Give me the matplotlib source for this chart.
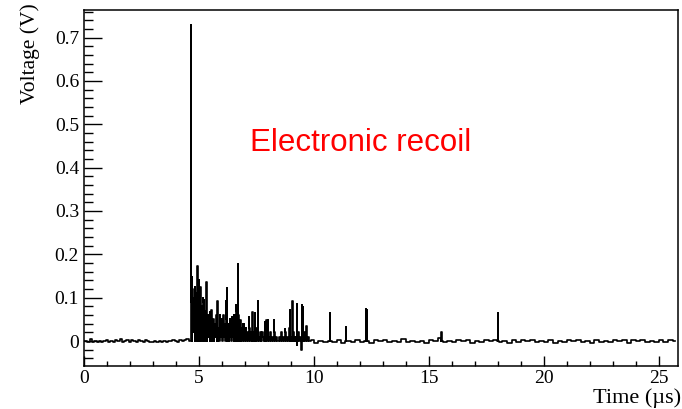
import numpy as np
import matplotlib
matplotlib.use("Agg")
import matplotlib.pyplot as plt
from matplotlib.ticker import MultipleLocator, FormatStrFormatter

# isolated spikes: time (us), peak voltage (V)
peak_t = [4.65, 4.70, 4.83, 4.94, 5.00, 5.07, 5.19, 5.23, 5.33, 5.48, 5.55,
          5.81, 5.91, 6.04, 6.16, 6.23, 6.42, 6.53, 6.61, 6.70, 6.81, 6.93,
          7.17, 7.33, 7.43, 7.57, 7.87, 7.94, 8.01, 8.26, 8.74, 8.96, 9.07,
          9.25, 9.49, 9.53, 9.68, 10.70, 11.38, 12.26, 12.32, 15.55, 18.01]
peak_v = [0.73, 0.148, 0.125, 0.172, 0.141, 0.125, 0.099, 0.095, 0.137, 0.068, 0.072,
          0.092, 0.060, 0.037, 0.093, 0.122, 0.055, 0.060, 0.083, 0.178, 0.048, 0.039,
          0.055, 0.068, 0.065, 0.093, 0.045, 0.048, 0.048, 0.048, 0.028, 0.072, 0.092,
          0.085, 0.082, 0.079, 0.035, 0.065, 0.032, 0.074, 0.072, 0.020, 0.064]

# dense tail after the main pulse, samples every 0.02 us from 4.66 us
dense_v = [0.02, 0.09, 0.03, 0.12, 0.02, 0.07, 0.04, 0.10, 0.02, 0.08,
           0.03, 0.11, 0.02, 0.06, 0.03, 0.09, 0.02, 0.07, 0.03, 0.10,
           0.02, 0.06, 0.01, 0.08, 0.02, 0.05, 0.03, 0.09, 0.01, 0.06,
           0.02, 0.07, 0.01, 0.05, 0.02, 0.04, 0.01, 0.06, 0.02, 0.03,
           0.01, 0.05, 0.02, 0.04, 0.01, 0.06, 0.01, 0.03, 0.02, 0.05,
           0.00, 0.03, 0.01, 0.04, 0.02, 0.06, 0.01, 0.03, 0.01, 0.05,
           0.01, 0.03, 0.00, 0.04, 0.01, 0.02, 0.01, 0.05, 0.00, 0.03,
           0.01, 0.06, 0.01, 0.04, 0.02, 0.07, 0.01, 0.05, 0.02, 0.04,
           0.01, 0.03, 0.00, 0.04, 0.02, 0.05, 0.01, 0.03, 0.00, 0.02,
           0.01, 0.04, 0.01, 0.05, 0.02, 0.06, 0.01, 0.04, 0.02, 0.07,
           0.02, 0.05, 0.01, 0.06, 0.02, 0.04, 0.01, 0.03, 0.00, 0.02,
           0.01, 0.03, 0.00, 0.02, 0.01, 0.04, 0.00, 0.02, 0.01, 0.03]

# sparser ripple, samples every 0.04 us from 7.06 us
sparse_v = [0.00, 0.02, 0.00, 0.01, 0.03, 0.00, 0.02, 0.00, 0.01, 0.02,
            0.00, 0.03, 0.00, 0.01, 0.00, 0.02, 0.00, 0.01, 0.02, 0.00,
            0.01, 0.00, 0.02, 0.00, 0.01, 0.00, 0.02, 0.00, 0.00, 0.01,
            0.00, 0.02, 0.00, 0.01, 0.00, 0.00, 0.01, 0.00, 0.02, 0.00,
            0.01, 0.00, 0.00, 0.02, 0.00, 0.01, 0.00, 0.03, 0.00, 0.01,
            0.00, 0.02, 0.00, 0.01, 0.00, -0.01, 0.00, 0.02, 0.00, 0.01,
            -0.02, 0.01, 0.00, 0.02, 0.00, 0.01, 0.00, 0.00, 0.01, 0.00]

# baseline noise before the pulse, every 0.1 us from 0
pre_v = [0.0, 0.001, -0.002, 0.004, -0.002, 0.0, -0.003, 0.001, -0.002, 0.0,
         0.002, -0.003, 0.0, -0.002, 0.003, 0.001, 0.004, -0.002, 0.0, 0.003,
         -0.002, 0.002, 0.0, -0.003, 0.003, 0.0, -0.002, 0.002, 0.0, -0.003,
         -0.002, 0.0, -0.003, 0.001, -0.002, 0.0, -0.003, 0.001, 0.0, 0.003,
         0.0, -0.002, 0.003, 0.0, 0.002, 0.004, 0.0]
# baseline noise after the pulse, every 0.2 us from 9.9
post_v = [0.003, -0.004, 0.0, -0.003, 0.001, -0.002, 0.003, -0.004, 0.0, -0.003,
          0.002, -0.003, 0.0, -0.004, 0.003, -0.001, 0.002, -0.003, 0.0, -0.003,
          0.004, -0.002, 0.001, -0.003, 0.0, -0.004, 0.002, 0.0, 0.006, -0.003,
          0.001, -0.002, 0.003, 0.0, 0.002, -0.004, 0.001, -0.002, 0.003, 0.0,
          0.002, -0.003, 0.0, -0.004, 0.002, -0.002, 0.003, 0.0, 0.002, -0.003,
          0.001, -0.002, 0.002, -0.004, 0.0, -0.003, 0.002, -0.001, 0.003, -0.003,
          0.0, -0.004, 0.003, -0.002, 0.001, -0.003, 0.002, 0.0, 0.003, -0.004,
          0.002, -0.001, 0.003, -0.003, 0.0, -0.003, 0.003, -0.002, 0.002, 0.0]

dense_t = 4.66 + 0.02 * np.arange(len(dense_v))
sparse_t = 7.06 + 0.04 * np.arange(len(sparse_v))
pre_t = 0.1 * np.arange(len(pre_v))
post_t = 9.9 + 0.2 * np.arange(len(post_v))

pts = (list(zip(pre_t, pre_v)) + list(zip(dense_t, dense_v))
       + list(zip(sparse_t, sparse_v)) + list(zip(post_t, post_v)))
for t, v in zip(peak_t, peak_v):
    pts += [(t - 0.004, 0.0), (t, v), (t + 0.004, 0.0)]
pts.sort(key=lambda p: p[0])
t_all = [p[0] for p in pts]
v_all = [p[1] for p in pts]

fig = plt.figure(figsize=(6.82, 4.09), dpi=100)
ax = fig.add_axes([0.123, 0.105, 0.871, 0.871])

ax.plot(t_all, v_all, color="black", lw=1.2, drawstyle="steps-mid")

ax.set_xlim(0, 25.83)
ax.set_ylim(-0.0577, 0.764)

ax.xaxis.set_major_locator(MultipleLocator(5))
ax.xaxis.set_minor_locator(MultipleLocator(1))
ax.yaxis.set_major_locator(MultipleLocator(0.1))
ax.yaxis.set_minor_locator(MultipleLocator(0.02))
ax.yaxis.set_major_formatter(FormatStrFormatter("%g"))

ax.tick_params(axis="both", which="both", direction="in", labelsize=14,
               top=False, right=False, width=1.0)
ax.tick_params(axis="y", which="major", length=13)
ax.tick_params(axis="y", which="minor", length=6.5)
ax.tick_params(axis="x", which="major", length=7.5, pad=2.5)
ax.tick_params(axis="x", which="minor", length=3.8)
for lab in ax.get_xticklabels() + ax.get_yticklabels():
    lab.set_fontfamily("Liberation Serif")
for sp in ax.spines.values():
    sp.set_linewidth(1.1)

fig.text(30 / 682, 1 - 3 / 409, "Voltage (V)", rotation=90, ha="center", va="top",
         fontsize=15.5, family="Liberation Serif")
fig.text(681 / 682, 0.5 / 409, "Time (\u00b5s)", ha="right", va="bottom",
         fontsize=16, family="Liberation Serif")

ax.text(7.22, 0.457, "Electronic recoil", color="red", fontsize=22.5,
        family="Liberation Sans", ha="left", va="center")

fig.savefig("out.png", dpi=100)
